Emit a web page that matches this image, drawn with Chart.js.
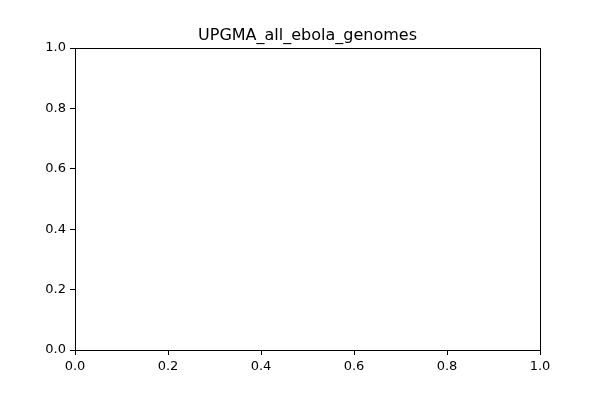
<!DOCTYPE html>
<html>
<head>
<script src="https://cdn.jsdelivr.net/npm/chart.js@4/dist/chart.umd.min.js"></script>
<style>body{margin:0;background:#fff}</style>
</head>
<body>
<canvas id="chart" width="600" height="400"></canvas>
<script>
const chartTitle = "UPGMA_all_ebola_genomes";
const xRange = [0, 1];
const yRange = [0, 1];
const tickStep = 0.2;

const frame = {
  id: "frame",
  afterDraw(c) {
    const { ctx, chartArea: a } = c;
    ctx.save();
    ctx.strokeStyle = "#000";
    ctx.lineWidth = 1;
    ctx.strokeRect(a.left + 0.5, a.top + 0.5, a.right - a.left, a.bottom - a.top);
    ctx.fillStyle = "#000";
    ctx.font = "16px 'DejaVu Sans'";
    ctx.textAlign = "center";
    ctx.textBaseline = "alphabetic";
    ctx.fillText(chartTitle, (a.left + a.right) / 2, 40);
    ctx.restore();
  }
};

function axis(range, size, key) {
  return {
    type: "linear",
    min: range[0],
    max: range[1],
    afterFit(s) { s[key] = size; },
    border: { display: false },
    grid: { drawOnChartArea: false, tickLength: 5, tickColor: "#000" },
    ticks: {
      stepSize: tickStep,
      color: "#000",
      font: { family: "DejaVu Sans", size: 13 },
      padding: 4,
      maxRotation: 0,
      callback: v => v.toFixed(1)
    }
  };
}

new Chart(document.getElementById("chart").getContext("2d"), {
  type: "scatter",
  data: { datasets: [{ data: [] }] },
  options: {
    responsive: false,
    animation: false,
    layout: { padding: { top: 48, right: 60, left: 0, bottom: 0 } },
    plugins: { legend: { display: false }, tooltip: { enabled: false } },
    scales: {
      x: axis(xRange, 50, "height"),
      y: axis(yRange, 75, "width")
    }
  },
  plugins: [frame]
});
</script>
</body>
</html>
